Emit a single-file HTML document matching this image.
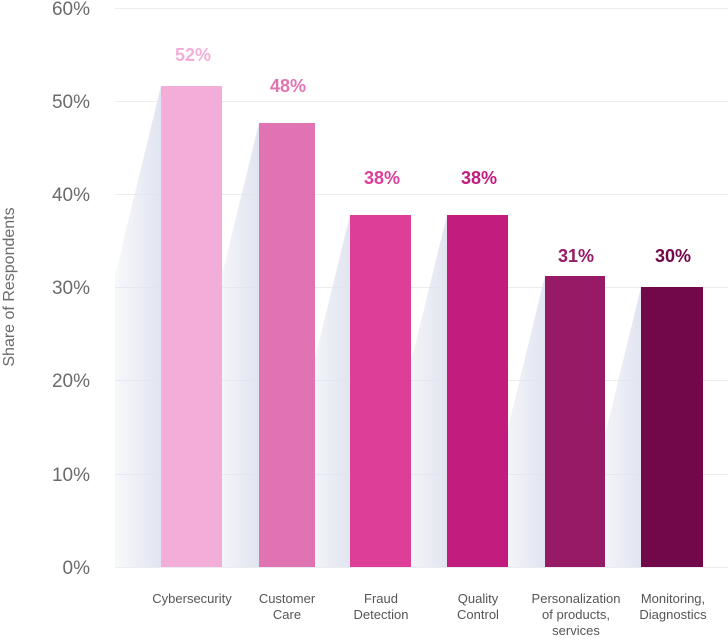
<!DOCTYPE html>
<html><head><style>body{margin:0;background:#fff}</style></head><body>
<svg width="728" height="636" xmlns="http://www.w3.org/2000/svg" font-family="Liberation Sans, sans-serif">
<defs>
<linearGradient id="g1" gradientUnits="userSpaceOnUse" x1="101" x2="161" y1="0" y2="0"><stop offset="0" stop-color="#dfe3ef" stop-opacity="0"/><stop offset="1" stop-color="#dfe3ef" stop-opacity="0.95"/></linearGradient>
<linearGradient id="g2" href="#g1" x1="199" x2="259"/>
<linearGradient id="g3" href="#g1" x1="290" x2="350"/>
<linearGradient id="g4" href="#g1" x1="387" x2="447"/>
<linearGradient id="g5" href="#g1" x1="485" x2="545"/>
<linearGradient id="g6" href="#g1" x1="581" x2="641"/>
<clipPath id="c"><rect x="115" y="0" width="613" height="567"/></clipPath>
</defs>
<g stroke="#ececf0" stroke-width="1">
<line x1="115" x2="728" y1="8.5" y2="8.5"/><line x1="115" x2="728" y1="101.5" y2="101.5"/><line x1="115" x2="728" y1="194.5" y2="194.5"/><line x1="115" x2="728" y1="287.5" y2="287.5"/><line x1="115" x2="728" y1="380.5" y2="380.5"/><line x1="115" x2="728" y1="474.5" y2="474.5"/><line x1="115" x2="728" y1="567.5" y2="567.5"/>
</g>
<g font-size="19" fill="#6b6b6b" text-anchor="end">
<text x="90" y="15">60%</text><text x="90" y="108">50%</text><text x="90" y="201">40%</text><text x="90" y="294">30%</text><text x="90" y="387">20%</text><text x="90" y="481">10%</text><text x="90" y="574">0%</text>
</g>
<text transform="translate(14,287) rotate(-90)" text-anchor="middle" font-size="16" fill="#6b6b6b">Share of Respondents</text>
<g clip-path="url(#c)">
<polygon points="161,86 161,567 44,567" fill="url(#g1)"/>
<polygon points="259,123 259,567 151,567" fill="url(#g2)"/>
<polygon points="350,215 350,567 264,567" fill="url(#g3)"/>
<polygon points="447,215 447,567 361,567" fill="url(#g4)"/>
<polygon points="545,276 545,567 474,567" fill="url(#g5)"/>
<polygon points="641,287 641,567 573,567" fill="url(#g6)"/>
</g>
<rect x="161" y="86" width="61" height="481" fill="#f2aed8"/>
<rect x="259" y="123" width="56" height="444" fill="#e073b2"/>
<rect x="350" y="215" width="61" height="352" fill="#dd3f98"/>
<rect x="447" y="215" width="61" height="352" fill="#c21c7f"/>
<rect x="545" y="276" width="60" height="291" fill="#961a66"/>
<rect x="641" y="287" width="62" height="280" fill="#72074a"/>
<g font-size="18" font-weight="bold" text-anchor="middle">
<text x="193" y="61" fill="#f2aed8">52%</text>
<text x="288" y="92" fill="#e073b2">48%</text>
<text x="382" y="184" fill="#dd3f98">38%</text>
<text x="479" y="184" fill="#c21c7f">38%</text>
<text x="576" y="262" fill="#961a66">31%</text>
<text x="673" y="262" fill="#72074a">30%</text>
</g>
<g font-size="13" fill="#555" text-anchor="middle">
<text x="192" y="603">Cybersecurity</text>
<text x="287" y="603">Customer</text><text x="287" y="619">Care</text>
<text x="381" y="603">Fraud</text><text x="381" y="619">Detection</text>
<text x="478" y="603">Quality</text><text x="478" y="619">Control</text>
<text x="576" y="603">Personalization</text><text x="576" y="619">of products,</text><text x="576" y="635">services</text>
<text x="673" y="603">Monitoring,</text><text x="673" y="619">Diagnostics</text>
</g>
</svg>
</body></html>
